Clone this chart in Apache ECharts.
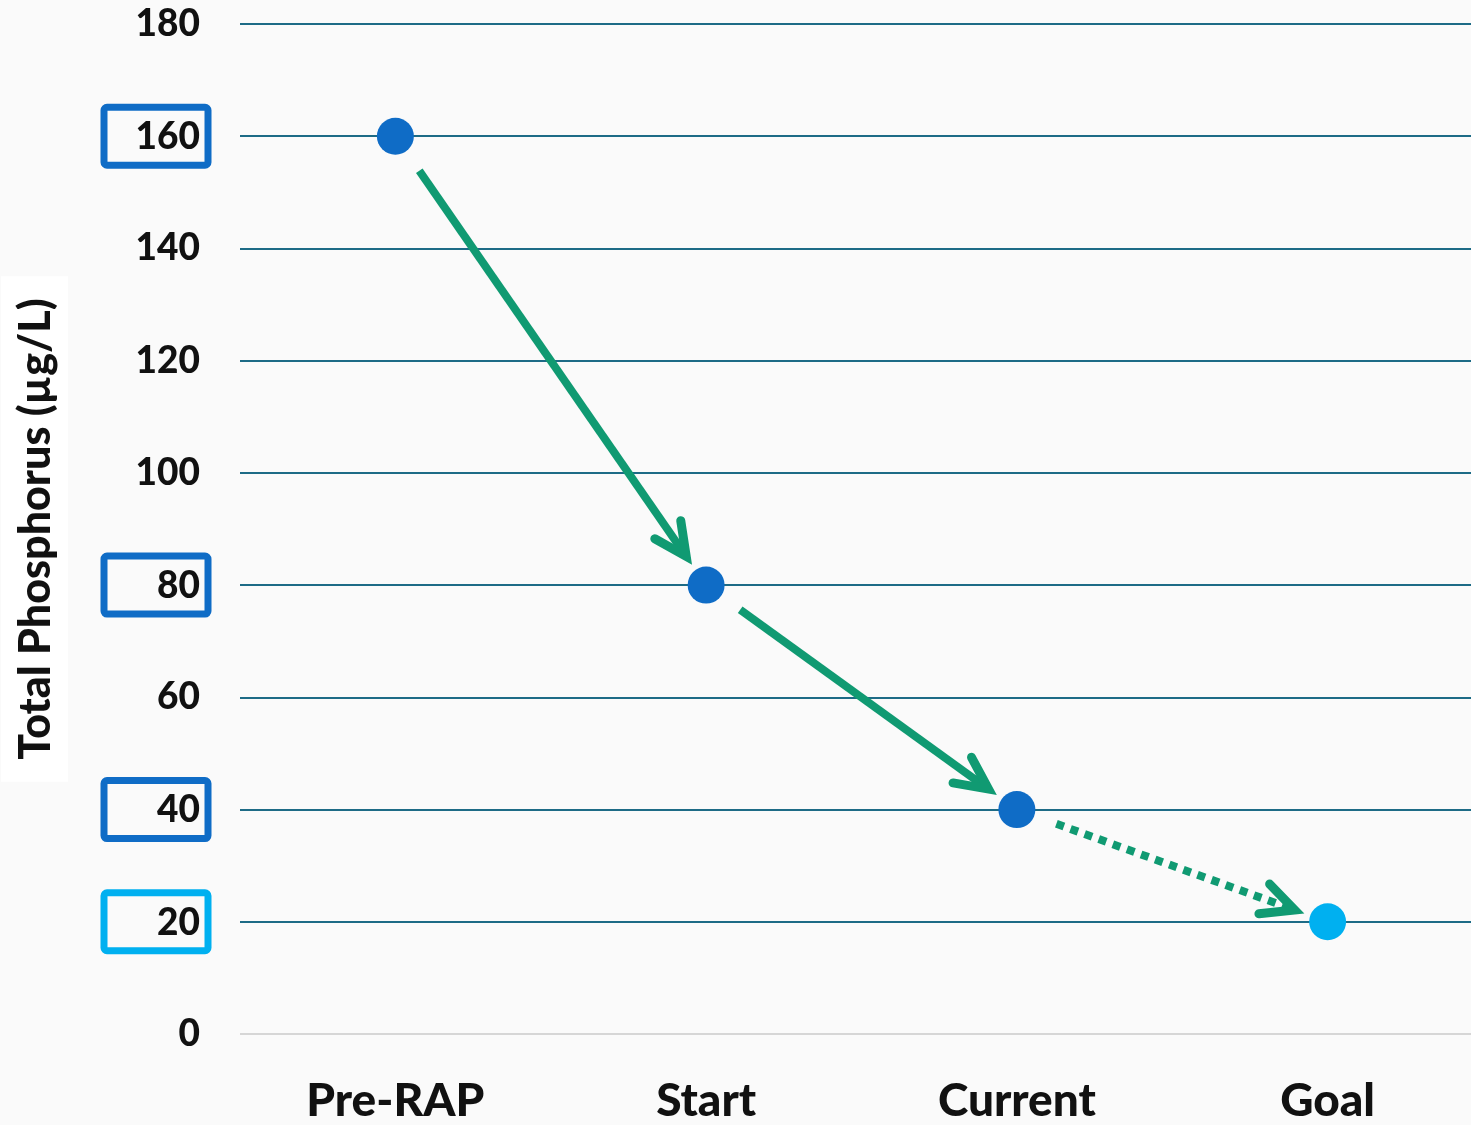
<!DOCTYPE html>
<html><head><meta charset="utf-8">
<script src="https://cdn.jsdelivr.net/npm/echarts@6/dist/echarts.min.js"></script>
<style>html,body{margin:0;padding:0;background:#fafafa}#c{width:1471px;height:1125px}</style>
</head><body><div id="c"></div>
<script>
const categories = ['Pre-RAP', 'Start', 'Current', 'Goal'];
const values = [160, 80, 40, 20];
const pointColors = ['#0F6CC6', '#0F6CC6', '#0F6CC6', '#00B0F0'];
const arrowStyles = ['solid', 'solid', 'dotted'];
const boxedTicks = {160: 'dark', 80: 'dark', 40: 'dark', 20: 'light'};
const yTicks = [0, 20, 40, 60, 80, 100, 120, 140, 160, 180];

const FONT = 'Lato';
const chart = echarts.init(document.getElementById('c'));
const arrowData = [];
for (let i = 0; i < values.length - 1; i++) arrowData.push([i, values[i], i + 1, values[i + 1], i]);

const splitColors = yTicks.map((v, i) => i === 0 ? '#d6d6d6' : '#1d6b86');

chart.setOption({
  backgroundColor: '#fafafa',
  animation: false,
  grid: {left: 240, top: 24, width: 1243, height: 1010, containLabel: false, outerBoundsMode: 'none'},
  xAxis: {
    type: 'category', data: categories, boundaryGap: true,
    axisLine: {show: false}, axisTick: {show: false},
    axisLabel: {color: '#111', fontFamily: FONT, fontWeight: 900, fontSize: 46, margin: 44}
  },
  yAxis: {
    type: 'value', min: 0, max: 180, interval: 20,
    name: 'Total Phosphorus (µg/L)', nameLocation: 'middle', nameGap: 172, nameRotate: 90,
    nameTextStyle: {color: '#111', fontFamily: FONT, fontWeight: 900, fontSize: 43, backgroundColor: '#ffffff', padding: [14, 22, 10, 22]},
    axisLine: {show: false}, axisTick: {show: false},
    splitLine: {show: true, lineStyle: {color: splitColors, width: 2}},
    axisLabel: {
      margin: 32,
      formatter: v => boxedTicks[v] ? '{' + boxedTicks[v] + '|' + v + '}' : '{plain|' + v + '}',
      rich: {
        plain: {color: '#111', fontFamily: FONT, fontWeight: 900, fontSize: 37, padding: [0, 8, 0, 0], align: 'right'},
        dark: {color: '#111', fontFamily: FONT, fontWeight: 900, fontSize: 37, align: 'right', width: 88, height: 46, lineHeight: 46, padding: [7, 8, 5, 8], borderColor: '#0F6CC6', borderWidth: 7, borderRadius: 3},
        light: {color: '#111', fontFamily: FONT, fontWeight: 900, fontSize: 37, align: 'right', width: 88, height: 46, lineHeight: 46, padding: [7, 8, 5, 8], borderColor: '#00B0F0', borderWidth: 7, borderRadius: 3}
      }
    }
  },
  series: [
    {
      type: 'custom', z: 3, silent: true,
      data: arrowData,
      renderItem: function (params, api) {
        const p0 = api.coord([api.value(0), api.value(1)]);
        const p1 = api.coord([api.value(2), api.value(3)]);
        const idx = api.value(4);
        const dx = p1[0] - p0[0], dy = p1[1] - p0[1];
        const L = Math.sqrt(dx * dx + dy * dy);
        const ux = dx / L, uy = dy / L;
        const s = [p0[0] + ux * 42, p0[1] + uy * 42];
        const t = [p1[0] - ux * 35, p1[1] - uy * 35];
        const ang = Math.atan2(uy, ux);
        const head = 36, ha = 26 * Math.PI / 180;
        const a1 = [t[0] - head * Math.cos(ang - ha), t[1] - head * Math.sin(ang - ha)];
        const a2 = [t[0] - head * Math.cos(ang + ha), t[1] - head * Math.sin(ang + ha)];
        const dotted = arrowStyles[idx] === 'dotted';
        const col = '#109A72';
        return {
          type: 'group', children: [
            {type: 'line', shape: {x1: s[0], y1: s[1], x2: t[0] - ux * 5, y2: t[1] - uy * 5},
              style: {stroke: col, lineWidth: 8, lineDash: dotted ? [8, 7] : null, lineCap: 'butt'}},
            {type: 'polyline', shape: {points: [a1, t, a2]},
              style: {stroke: col, lineWidth: 9, fill: null, lineCap: 'round', lineJoin: 'miter'}}
          ]
        };
      }
    },
    {
      type: 'scatter', z: 4, symbol: 'circle', symbolSize: 37,
      itemStyle: {opacity: 1},
      data: values.map((v, i) => ({value: v, itemStyle: {color: pointColors[i], opacity: 1}}))
    }
  ]
});
</script></body></html>
